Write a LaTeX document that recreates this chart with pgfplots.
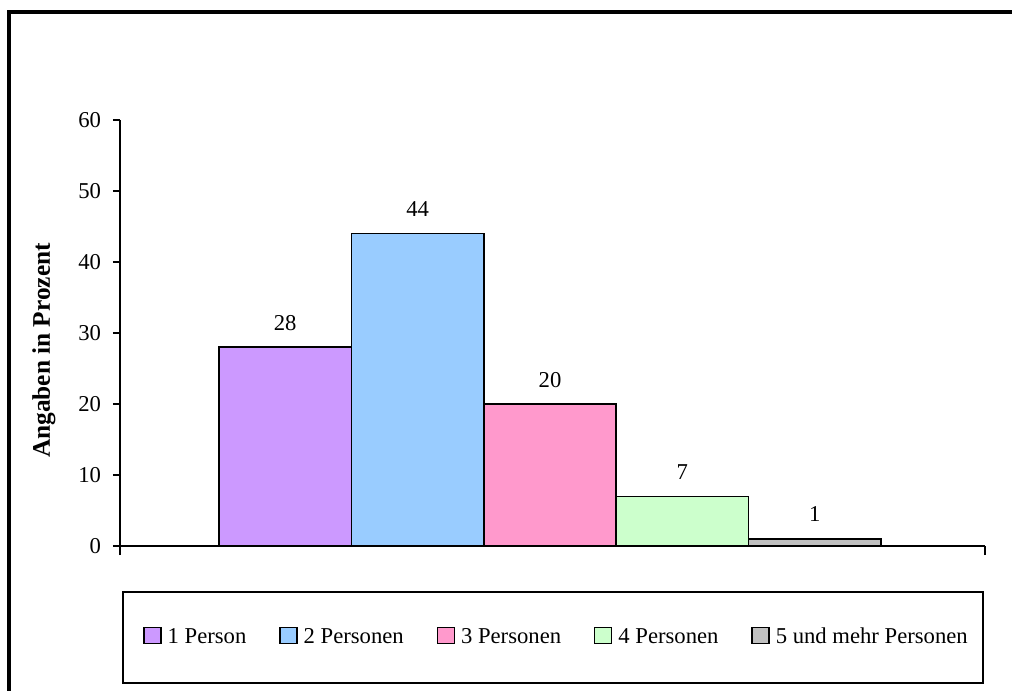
\documentclass[border=0pt]{standalone}
\usepackage{fontspec}
\setmainfont{Liberation Serif}
\usepackage{pgfplots}
\pgfplotsset{compat=1.18}

\definecolor{cPurple}{RGB}{204,153,255}
\definecolor{cBlue}{RGB}{153,204,255}
\definecolor{cPink}{RGB}{255,153,204}
\definecolor{cGreen}{RGB}{204,255,204}
\definecolor{cGray}{RGB}{192,192,192}

\pgfplotsset{
  sq/.style={legend image code/.code={%
    \draw[##1, line width=1.1pt] (0pt,0pt) rectangle (12.75pt,12pt);}},
}

\begin{document}
\begin{tikzpicture}[font=\fontsize{17}{20}\selectfont]
\useasboundingbox (-90pt,-108pt) rectangle (669pt,409.5pt);
% outer frame (left and top edges)
\draw[line width=3pt, line join=miter] (-83.5pt,-110pt) -- (-83.5pt,400.5pt) -- (672pt,400.5pt);
% legend frame
\draw[line width=1.1pt] (2.25pt,-34.5pt) rectangle (647.25pt,-102.75pt);
\begin{axis}[
  at={(0pt,0pt)}, anchor=south west,
  scale only axis, width=648.75pt, height=319.5pt,
  xmin=120, xmax=985, ymin=0, ymax=60,
  enlargelimits=false, clip=false,
  axis lines=left, axis line style={-, line width=1.2pt},
  ytick={0,10,...,60}, xtick={120,985}, xticklabels={},
  tick align=outside, major tick length=5.25pt,
  tick style={line width=1.2pt, black},
  xtick style={/pgfplots/major tick length=6.75pt},
  /pgf/number format/assume math mode=true,
  yticklabel style={inner sep=0pt, xshift=-8.8pt},
  ylabel={Angaben in Prozent},
  ylabel style={font=\fontsize{19}{22}\selectfont\bfseries,
    at={(axis description cs:-0.0879,0.459)}, anchor=center},
  ybar, bar width=132.4,
  nodes near coords,
  every node near coord/.append style={anchor=base, yshift=12.75pt, inner sep=0pt},
  legend columns=5,
  legend style={draw=none, fill=none, inner sep=0pt,
    at={(axis description cs:0.0266,-0.2113)}, anchor=west,
    nodes={inner sep=0pt, anchor=base}, column sep=4.5pt,
    /tikz/every even column/.append style={column sep=24.6pt}},
]
\addplot[bar shift=0pt, fill=cPurple, draw=black, line width=1.2pt, sq] coordinates {(285.2,28)};
\addlegendentry{1 Person}
\addplot[bar shift=0pt, fill=cBlue, draw=black, line width=1.2pt, sq] coordinates {(417.6,44)};
\addlegendentry{2 Personen}
\addplot[bar shift=0pt, fill=cPink, draw=black, line width=1.2pt, sq] coordinates {(550.0,20)};
\addlegendentry{3 Personen}
\addplot[bar shift=0pt, fill=cGreen, draw=black, line width=1.2pt, sq] coordinates {(682.4,7)};
\addlegendentry{4 Personen}
\addplot[bar shift=0pt, fill=cGray, draw=black, line width=1.2pt, sq] coordinates {(814.8,1)};
\addlegendentry{5 und mehr Personen}
\end{axis}
\end{tikzpicture}
\end{document}
